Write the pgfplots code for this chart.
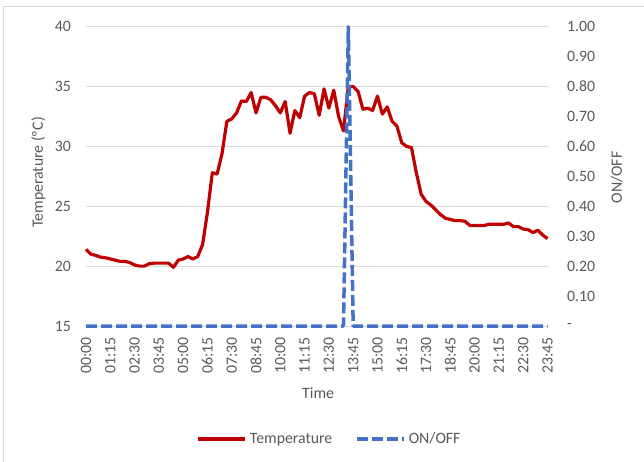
\documentclass[border=0pt]{standalone}
\usepackage{pgfplots}
\pgfplotsset{compat=1.18}
\usepackage{fontspec}
\setmainfont{Carlito}
\definecolor{tred}{HTML}{C00000}
\definecolor{oblue}{HTML}{4472C4}
\definecolor{txt}{HTML}{595959}
\definecolor{grd}{HTML}{D9D9D9}
\newcommand{\ff}{\fontsize{15.8bp}{19bp}\selectfont}
\begin{document}
\begin{tikzpicture}
\useasboundingbox (-86bp,-136bp) rectangle (558bp,326bp);
\draw[grd, line width=1bp] (-82.7bp,-140bp) -- (-82.7bp,319.3bp) -- (562bp,319.3bp);
\begin{axis}[
  scale only axis, width=461.5bp, height=299.3bp,
  xmin=0, xmax=95, ymin=15, ymax=40,
  clip=false,
  axis x line*=bottom, axis y line*=left,
  y axis line style={draw=none},
  x axis line style={grd, line width=1bp},
  major tick length=0pt,
  ymajorgrids, grid style={grd, line width=1bp},
  xtick={0,5,...,95},
  xticklabels={00:00,01:15,02:30,03:45,05:00,06:15,07:30,08:45,10:00,11:15,12:30,13:45,15:00,16:15,17:30,18:45,20:00,21:15,22:30,23:45},
  ytick={15,20,25,30,35,40},
  yticklabels={15,20,25,30,35,40},
  xticklabel style={rotate=90, anchor=east, inner sep=0bp, xshift=-11bp, font=\ff, text=txt},
  yticklabel style={anchor=east, inner sep=0bp, xshift=-15bp, font=\ff, text=txt},
  xlabel={Time}, ylabel={Temperature (ºC)},
  xlabel style={at={(axis description cs:0.503,-0.2406)}, anchor=base, font=\ff, text=txt},
  ylabel style={at={(axis description cs:-0.0932,0.513)}, anchor=base, font=\ff, text=txt},
]
\addplot[tred, line width=3.2bp, line join=round] coordinates {
(0,21.4) (1,21.0) (2,20.9) (3,20.75) (4,20.7) (5,20.6) (6,20.5) (7,20.4) (8,20.4) (9,20.3)
(10,20.1) (11,20.0) (12,20.0) (13,20.2) (14,20.25) (15,20.25) (16,20.25) (17,20.25) (18,19.9) (19,20.5)
(20,20.6) (21,20.8) (22,20.6) (23,20.8) (24,21.8) (25,24.5) (26,27.8) (27,27.7) (28,29.4) (29,32.1)
(30,32.3) (31,32.8) (32,33.8) (33,33.75) (34,34.5) (35,32.8) (36,34.1) (37,34.1) (38,33.9) (39,33.4)
(40,32.8) (41,33.75) (42,31.1) (43,33.0) (44,32.4) (45,34.2) (46,34.5) (47,34.4) (48,32.6) (49,34.8)
(50,33.2) (51,34.7) (52,32.5) (53,31.3) (54,35.0) (55,35.0) (56,34.6) (57,33.1) (58,33.2) (59,33.0)
(60,34.2) (61,32.7) (62,33.3) (63,32.1) (64,31.7) (65,30.3) (66,30.0) (67,29.9) (68,27.8) (69,26.0)
(70,25.4) (71,25.1) (72,24.7) (73,24.3) (74,24.0) (75,23.9) (76,23.8) (77,23.8) (78,23.75) (79,23.4)
(80,23.4) (81,23.4) (82,23.4) (83,23.5) (84,23.5) (85,23.5) (86,23.5) (87,23.6) (88,23.3) (89,23.3)
(90,23.1) (91,23.05) (92,22.8) (93,23.0) (94,22.6) (95,22.3)
};
\end{axis}
\begin{axis}[
  scale only axis, width=461.5bp, height=299.3bp,
  xmin=0, xmax=95, ymin=0, ymax=1,
  clip=false,
  axis x line=none, axis y line*=right,
  y axis line style={draw=none},
  major tick length=0pt,
  ytick={0,0.1,0.2,0.3,0.4,0.5,0.6,0.7,0.8,0.9,1},
  yticklabels={-,0.10,0.20,0.30,0.40,0.50,0.60,0.70,0.80,0.90,1.00},
  yticklabel style={anchor=west, inner sep=0bp, xshift=19.5bp, font=\ff, text=txt},
  ylabel={ON/OFF},
  ylabel style={at={(axis description cs:1.161,0.496)}, anchor=base, font=\ff, text=txt},
  legend columns=2,
  legend cell align=left,
  legend image code/.code={\draw[#1] (0bp,0bp) -- (47bp,0bp);},
  legend style={at={(axis description cs:0.529,-0.3776)}, anchor=center, draw=none, fill=none,
    font=\ff, text=txt, nodes={inner sep=3bp},
    /tikz/every even column/.append style={column sep=20bp}},
]
\addlegendimage{tred, line width=3.2bp}
\addlegendentry{Temperature}
\addplot[oblue, line width=3.5bp, dash pattern=on 11bp off 4bp, line join=round] coordinates {
(0,0) (1,0) (2,0) (3,0) (4,0) (5,0) (6,0) (7,0) (8,0) (9,0)
(10,0) (11,0) (12,0) (13,0) (14,0) (15,0) (16,0) (17,0) (18,0) (19,0)
(20,0) (21,0) (22,0) (23,0) (24,0) (25,0) (26,0) (27,0) (28,0) (29,0)
(30,0) (31,0) (32,0) (33,0) (34,0) (35,0) (36,0) (37,0) (38,0) (39,0)
(40,0) (41,0) (42,0) (43,0) (44,0) (45,0) (46,0) (47,0) (48,0) (49,0)
(50,0) (51,0) (52,0) (53,0) (54,1) (55,0) (56,0) (57,0) (58,0) (59,0)
(60,0) (61,0) (62,0) (63,0) (64,0) (65,0) (66,0) (67,0) (68,0) (69,0)
(70,0) (71,0) (72,0) (73,0) (74,0) (75,0) (76,0) (77,0) (78,0) (79,0)
(80,0) (81,0) (82,0) (83,0) (84,0) (85,0) (86,0) (87,0) (88,0) (89,0)
(90,0) (91,0) (92,0) (93,0) (94,0) (95,0)
};
\addlegendentry{ON/OFF}
\end{axis}
\end{tikzpicture}
\end{document}
